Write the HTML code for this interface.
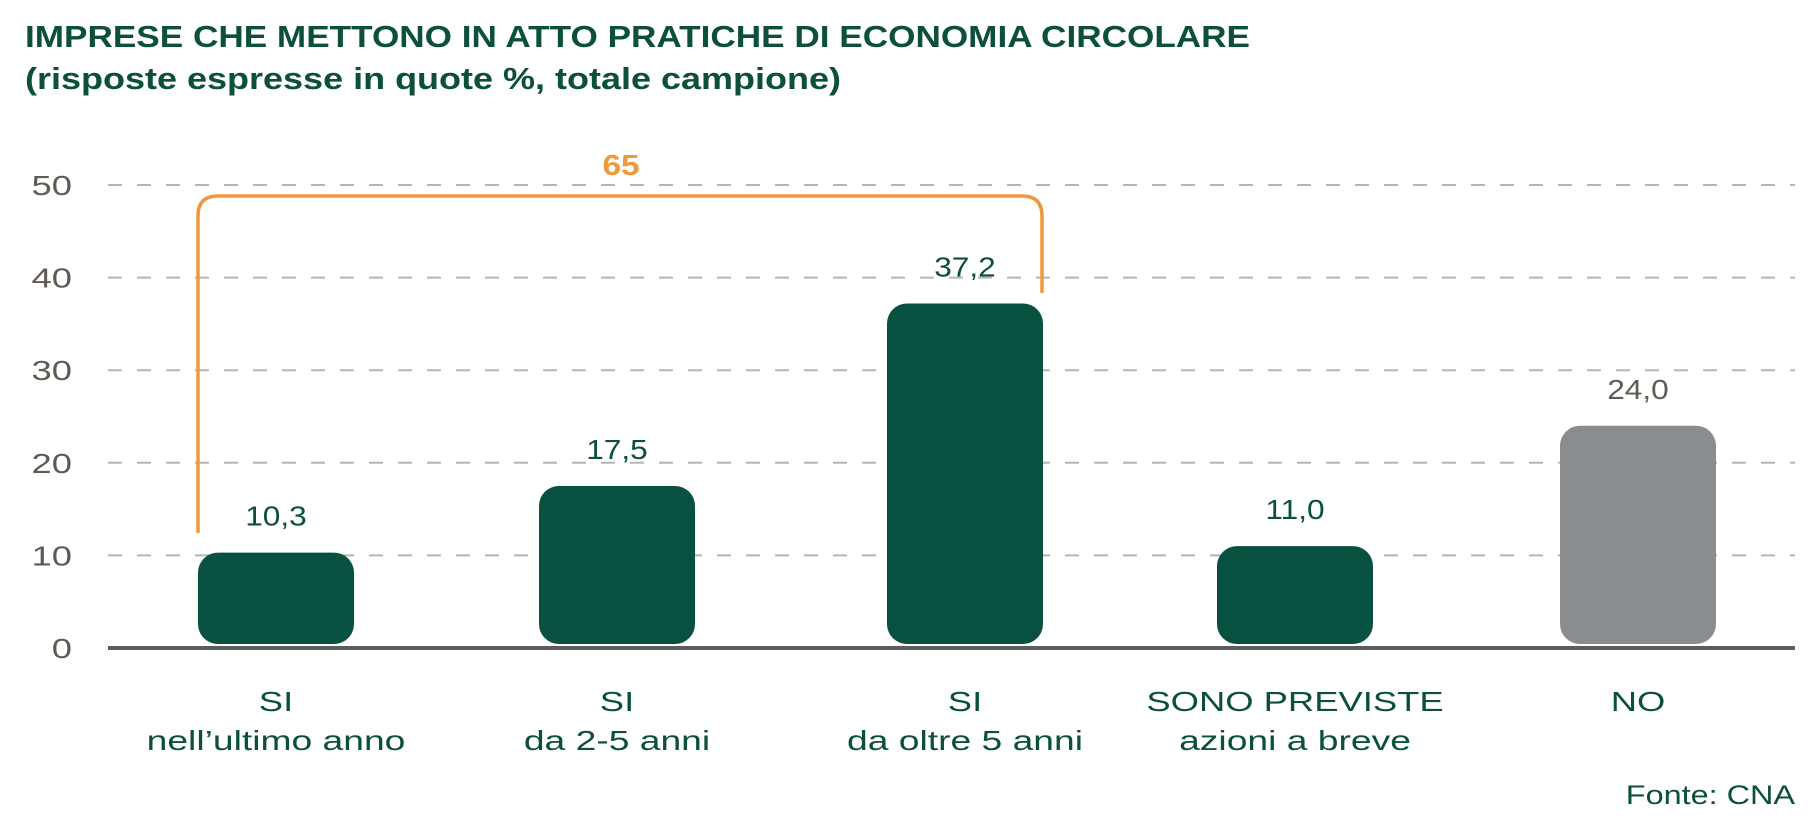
<!DOCTYPE html>
<html><head><meta charset="utf-8"><style>
html,body{margin:0;padding:0;background:#fff;}
body{width:1814px;height:828px;overflow:hidden;font-family:"Liberation Sans",sans-serif;}
</style></head><body>
<svg id="chart" width="1814" height="828" viewBox="0 0 1814 828" xmlns="http://www.w3.org/2000/svg">
<text x="25" y="47" font-size="31" font-weight="bold" fill="#0b4f3c" textLength="1225" lengthAdjust="spacingAndGlyphs">IMPRESE CHE METTONO IN ATTO PRATICHE DI ECONOMIA CIRCOLARE</text>
<text x="25" y="89" font-size="31" font-weight="bold" fill="#0b4f3c" textLength="816" lengthAdjust="spacingAndGlyphs">(risposte espresse in quote %, totale campione)</text>
<g id="grid"></g><g id="bars"></g><g id="labels"></g>
<path d="M198 533 V216 Q198 196 218 196 H1022 Q1042 196 1042 216 V293" fill="none" stroke="#f0993a" stroke-width="3.5"/>
<text transform="translate(621,175) scale(1.15,1)" font-size="29" font-weight="bold" fill="#f0993a" text-anchor="middle">65</text>
<line x1="108" y1="648" x2="1795" y2="648" stroke="#5d5d5d" stroke-width="4"/>
<text transform="translate(1795,804) scale(1.2,1)" font-size="27" fill="#0b4f3c" text-anchor="end">Fonte: CNA</text>
</svg>
<script>
const categories1=["SI","SI","SI","SONO PREVISTE","NO"];
const categories2=["nell’ultimo anno","da 2-5 anni","da oltre 5 anni","azioni a breve",""];
const values=[10.3,17.5,37.2,11.0,24.0];
const valueLabels=["10,3","17,5","37,2","11,0","24,0"];
const ticks=[0,10,20,30,40,50];
const barColors=["#08503f","#08503f","#08503f","#08503f","#8a8d8f"];
const NS="http://www.w3.org/2000/svg";
const y0=648,yPer=(648-185)/50;
const y=v=>y0-v*yPer;
const centers=[276,617,965,1295,1638];
const x=i=>centers[i];
const bw=156;
function mk(t,a,p){const e=document.createElementNS(NS,t);for(const k in a)e.setAttribute(k,a[k]);p.appendChild(e);return e;}
function txt(p,tx,ty,s,a){a.transform='translate('+tx+','+ty+') scale('+s+',1)';return mk('text',a,p);}
const g=document.getElementById('grid'),b=document.getElementById('bars'),l=document.getElementById('labels');
ticks.forEach(t=>{
 if(t>0){const ln=mk('line',{x1:108,x2:1795,y1:y(t),y2:y(t),stroke:'#b5b5b5','stroke-width':2,'stroke-dasharray':'14 15'},g);
 
 }
 const tx=txt(g,72,y(t)+10,1.3,{'font-size':28,fill:'#5f5a52','text-anchor':'end'});tx.textContent=t;
 
 
});
values.forEach((v,i)=>{
 const top=y(v),h=y0-4-top;
 const r=mk('rect',{x:x(i)-bw/2,y:top,width:bw,height:h,rx:20,ry:20,fill:barColors[i]},b);
 
 
 const vt=txt(l,x(i),top-27,1.13,{'font-size':28,fill:i==4?'#5f5a52':'#0b4f3c','text-anchor':'middle'});vt.textContent=valueLabels[i];
 
 
 const c1=txt(l,x(i),711,1.3,{'font-size':28,fill:'#0b4f3c','text-anchor':'middle'});c1.textContent=categories1[i];
 
 
 if(categories2[i]){const c2=txt(l,x(i),750,1.33,{'font-size':28,fill:'#0b4f3c','text-anchor':'middle'});c2.textContent=categories2[i];
 
 }
});
</script>
</body></html>
